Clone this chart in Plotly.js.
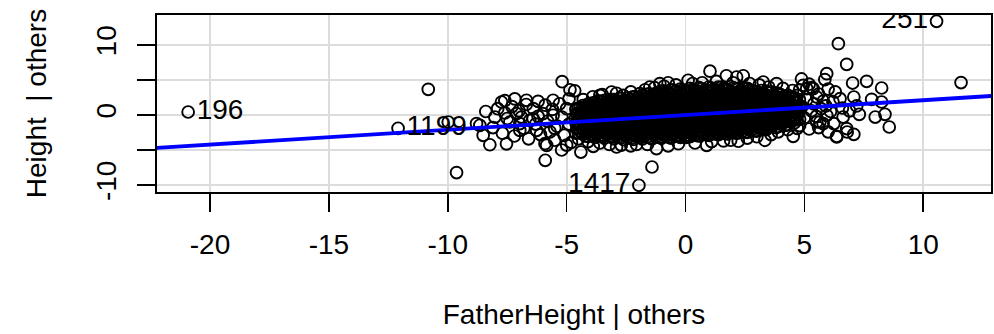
<!DOCTYPE html>
<html><head><meta charset="utf-8">
<script src="https://cdn.plot.ly/plotly-3.0.1.min.js"></script>
<style>html,body{margin:0;padding:0;background:#fff}#chart{width:994px;height:334px}</style>
</head><body><div id="chart"></div>
<script>
// Scattered / outlying points (FatherHeight | others, Height | others)
const outerX = [
-20.92, 10.56, 11.59, -1.96, -1.41, -12.09, -10.82, -9.63, -9.98, -8.79,
-8.51, -8.23, -7.53, -8.02, -7.74, -7.60, -7.18, -6.69, -6.20, -5.57,
-5.19, -7.39, -6.97, -7.11, -6.55, -5.91, -5.84, -5.21, -5.90, -6.26,
-4.86, -4.66, -6.97, -6.41, -5.57, -8.65, -4.40, -3.88, -2.90, -2.06,
-1.22, -0.73, 0.89, 2.22, 3.34, 4.53, -3.60, -3.11, -2.62, -1.92,
-1.50, -1.08, -0.73, 0.11, 1.03, 1.72, 2.15, 2.43, 3.27, 3.83,
4.88, 4.95, 5.37, 5.10, 5.52, 5.31, 5.86, 5.94, 6.43, 6.78,
7.03, 7.62, 8.25, 7.83, 8.25, 7.08, 6.50, 7.31, 7.98, 8.39,
8.57, 6.63, 6.78, 6.36, 6.80, 7.08, 5.94, 6.24, 5.65, 5.52,
5.79, 6.36, -8.4, -8.1, -7.9, -7.7, -7.5, -7.3, -7.2, -7.0,
-6.8, -6.7, -6.6, -6.4, -6.3, -6.1, -6.0, -5.9, -5.8, -5.7,
-5.6, -5.5, -5.4, -5.3, -5.2, -5.1, -5.0, -4.9, -4.9, -4.8,
-6.9, -7.6, -6.2, -5.5, -5.0, 4.7, 4.8, 4.9, 5.0, 5.1,
5.2, 5.3, 5.4, 5.5, 5.6, 5.7, 5.8, 5.9, 6.0, 6.1,
6.2, 6.3, 6.6, 6.9, 7.2, 6.0, 5.6, 4.8, 5.2
];
const outerY = [
0.43, 13.39, 4.63, -10.04, -7.43, -1.90, 3.67, -8.23, -1.00, -1.23,
-2.90, -4.25, -4.12, -0.29, 1.86, 2.05, 2.30, 2.10, 1.95, 2.10,
4.76, -1.00, -1.23, 0.20, -0.76, -4.09, -4.33, -5.00, -6.47, -2.19,
3.60, 3.45, -2.19, -0.51, -0.04, -1.47, -5.29, -4.47, -4.57, -4.20,
-4.80, -4.40, -4.33, -3.75, -3.61, -3.04, 2.81, 3.29, 2.81, 3.06,
4.00, 4.49, 4.60, 4.96, 6.27, 5.60, 5.43, 5.60, 4.71, 4.49,
5.15, 4.24, 3.77, 3.77, 2.57, 3.91, 5.06, 5.91, 10.20, 7.24,
4.57, 4.81, 3.86, 2.24, 1.86, 2.57, 2.34, 0.10, -0.29, 0.10,
-1.71, -0.29, -1.94, -3.04, -2.43, -2.76, -0.04, -1.23, -1.00, -1.00,
-1.23, -3.14, 0.5, -1.8, 0.9, -2.6, -0.5, 1.2, -3.0, 0.6,
-1.9, 1.5, -3.4, 0.9, -1.3, -2.8, 0.2, 1.4, -0.9, -2.4,
0.8, -3.6, -1.6, 1.6, -0.3, -2.9, 0.9, -1.3, 2.3, -3.9,
-0.3, 0.3, -0.2, -1.9, -4.3, 2.8, -1.5, 1.2, -0.4, 2.2,
-2.0, 0.6, 1.6, -0.2, 3.0, 0.9, 2.0, 1.3, -2.4, 0.5,
1.9, 3.3, 1.0, 0.6, 1.3, 3.7, -1.8, 3.6, 4.4
];
// Points along the edges of the dense cloud
const fringeX = [-4.3,-3.9,-3.5,-2.9,-2.3,-1.7,-1.3,-0.9,-0.4,0.3,0.7,1.3,2.0,2.7,3.1,3.5,4.1,4.5,
 -4.5,-4.1,-3.6,-3.2,-2.7,-2.3,-1.6,-0.3,0.4,1.1,1.6,1.9,2.6,3.0,3.6,3.9,4.3,4.7];
const fringeY = [2.2,2.6,2.9,3.1,3.3,3.6,3.9,4.1,4.3,4.5,4.6,4.8,4.6,4.5,4.3,4.0,3.8,3.5,
 -3.4,-3.8,-4.0,-4.2,-4.3,-4.4,-4.2,-4.1,-4.0,-3.8,-3.7,-3.6,-3.3,-3.1,-2.8,-2.4,-2.1,-1.9];
// Dense (over-plotted) core of the cloud, part 1
const coreX = [
-4.62,-4.57,-4.60,-4.64,-4.58,-4.61,
-4.41,-4.38,-4.43,-4.40,-4.37,-4.42,
-4.21,-4.18,-4.22,-4.19,-4.23,-4.20,-4.17,
-3.98,-4.02,-4.00,-3.97,-4.03,-3.99,-4.01,
-3.81,-3.78,-3.80,-3.83,-3.79,-3.82,-3.77,-3.80,
-3.59,-3.62,-3.58,-3.61,-3.60,-3.57,-3.63,-3.60,
-3.41,-3.38,-3.40,-3.43,-3.39,-3.42,-3.37,-3.40,-3.41,
-3.20,-3.23,-3.18,-3.21,-3.19,-3.22,-3.20,-3.17,
-3.01,-2.98,-3.02,-2.99,-3.03,-3.00,-2.97,-3.01,-2.99,
-2.79,-2.82,-2.80,-2.78,-2.81,-2.83,-2.79,-2.80,-2.77,
-2.61,-2.58,-2.60,-2.62,-2.59,-2.57,-2.61,-2.63,-2.60,
-2.40,-2.42,-2.38,-2.41,-2.39,-2.43,-2.40,-2.37,-2.41,
-2.19,-2.22,-2.20,-2.18,-2.21,-2.23,-2.19,-2.20,-2.17,-2.21,
-2.01,-1.98,-2.02,-2.00,-1.97,-2.03,-1.99,-2.01,-1.98,
-1.81,-1.78,-1.80,-1.82,-1.79,-1.83,-1.80,-1.77,-1.81,-1.79,
-1.60,-1.62,-1.58,-1.61,-1.59,-1.63,-1.60,-1.57,-1.61,-1.60,
-1.41,-1.38,-1.40,-1.42,-1.39,-1.43,-1.40,-1.37,-1.41,-1.39,
-1.20,-1.22,-1.18,-1.21,-1.19,-1.23,-1.20,-1.17,-1.21,-1.19,
-1.01,-0.98,-1.00,-1.02,-0.99,-1.03,-1.00,-0.97,-1.01,-0.99,-1.02,
-0.80,-0.82,-0.78,-0.81,-0.79,-0.83,-0.80,-0.77,-0.81,-0.79,
-0.61,-0.58,-0.60,-0.62,-0.59,-0.63,-0.60,-0.57,-0.61,-0.59,-0.62,
-0.40,-0.42,-0.38,-0.41,-0.39,-0.43,-0.40,-0.37,-0.41,-0.39,
-0.21,-0.18,-0.20,-0.22,-0.19,-0.23,-0.20,-0.17,-0.21,-0.19,-0.22,
0.00,-0.02,0.02,-0.01,0.01,-0.03,0.00,0.03,-0.01,0.01,0.02,
0.19,0.22,0.20,0.18,0.21,0.17,0.20,0.23,0.19,0.21,0.18,
0.40,0.38,0.42,0.39,0.41,0.37,0.40,0.43,0.39,0.41,
0.59,0.62,0.60,0.58,0.61,0.57,0.60,0.63,0.59,0.61,0.58,
0.80,0.78,0.82,0.79,0.81,0.77,0.80,0.83,0.79,0.81,
0.99,1.02,1.00,0.98,1.01,0.97,1.00,1.03,0.99,1.01,0.98,
1.20,1.18,1.22,1.19,1.21,1.17,1.20,1.23,1.19,1.21,
1.39,1.42,1.40,1.38,1.41,1.37,1.40,1.43,1.39,1.41,1.38,
1.60,1.58,1.62,1.59,1.61,1.57,1.60,1.63,1.59,1.61,
1.79,1.82,1.80,1.78,1.81,1.77,1.80,1.83,1.79,1.81,
2.00,1.98,2.02,1.99,2.01,1.97,2.00,2.03,1.99,2.01,
2.19,2.22,2.20,2.18,2.21,2.17,2.20,2.23,2.19,2.21,
2.40,2.38,2.42,2.39,2.41,2.37,2.40,2.43,2.39,2.41,
2.59,2.62,2.60,2.58,2.61,2.57,2.60,2.63,2.59,2.61,
2.80,2.78,2.82,2.79,2.81,2.77,2.80,2.83,2.79,
2.99,3.02,3.00,2.98,3.01,2.97,3.00,3.03,2.99,
3.20,3.18,3.22,3.19,3.21,3.17,3.20,3.23,3.19,
3.39,3.42,3.40,3.38,3.41,3.37,3.40,3.43,3.39,
3.60,3.58,3.62,3.59,3.61,3.57,3.60,3.63,
3.79,3.82,3.80,3.78,3.81,3.77,3.80,3.83,
4.00,3.98,4.02,3.99,4.01,3.97,4.00,
4.19,4.22,4.20,4.18,4.21,4.17,4.20,
4.40,4.38,4.42,4.39,4.41,4.37,
4.59,4.62,4.60,4.58,4.61,4.57,
4.80,4.78,4.82,4.79
];
const coreY = [
-2.6,-1.9,-1.2,-0.5,0.2,0.8,
-2.4,-1.7,-1.1,-0.3,0.4,1.1,
-3.0,-2.3,-1.6,-0.9,-0.2,0.5,1.2,
-2.8,-2.1,-1.4,-0.7,0.0,0.7,1.4,
-3.2,-2.5,-1.8,-1.1,-0.4,0.3,1.0,1.7,
-2.9,-2.2,-1.5,-0.8,-0.1,0.6,1.3,2.0,
-3.3,-2.6,-1.9,-1.2,-0.5,0.2,0.9,1.6,2.1,
-3.0,-2.3,-1.6,-0.9,-0.2,0.5,1.2,1.9,
-3.4,-2.7,-2.0,-1.3,-0.6,0.1,0.8,1.5,2.2,
-3.1,-2.4,-1.7,-1.0,-0.3,0.4,1.1,1.8,2.4,
-3.5,-2.8,-2.1,-1.4,-0.7,0.0,0.7,1.4,2.1,
-3.2,-2.5,-1.8,-1.1,-0.4,0.3,1.0,1.7,2.4,
-3.5,-2.8,-2.1,-1.4,-0.7,0.0,0.7,1.4,2.1,2.6,
-3.1,-2.4,-1.7,-1.0,-0.3,0.4,1.1,1.8,2.5,
-3.4,-2.7,-2.0,-1.3,-0.6,0.1,0.8,1.5,2.2,2.8,
-3.1,-2.4,-1.7,-1.0,-0.3,0.4,1.1,1.8,2.5,3.0,
-3.4,-2.7,-2.0,-1.3,-0.6,0.1,0.8,1.5,2.2,2.9,
-3.0,-2.3,-1.6,-0.9,-0.2,0.5,1.2,1.9,2.6,3.2,
-3.3,-2.6,-1.9,-1.2,-0.5,0.2,0.9,1.6,2.3,3.0,3.4,
-3.0,-2.3,-1.6,-0.9,-0.2,0.5,1.2,1.9,2.6,3.3,
-3.3,-2.6,-1.9,-1.2,-0.5,0.2,0.9,1.6,2.3,3.0,3.6,
-2.9,-2.2,-1.5,-0.8,-0.1,0.6,1.3,2.0,2.7,3.4,
-3.2,-2.5,-1.8,-1.1,-0.4,0.3,1.0,1.7,2.4,3.1,3.7,
-2.9,-2.2,-1.5,-0.8,-0.1,0.6,1.3,2.0,2.7,3.4,-3.2,
-3.1,-2.4,-1.7,-1.0,-0.3,0.4,1.1,1.8,2.5,3.2,3.8,
-2.8,-2.1,-1.4,-0.7,0.0,0.7,1.4,2.1,2.8,3.5,
-3.0,-2.3,-1.6,-0.9,-0.2,0.5,1.2,1.9,2.6,3.3,3.9,
-2.7,-2.0,-1.3,-0.6,0.1,0.8,1.5,2.2,2.9,3.6,
-2.9,-2.2,-1.5,-0.8,-0.1,0.6,1.3,2.0,2.7,3.4,4.0,
-2.6,-1.9,-1.2,-0.5,0.2,0.9,1.6,2.3,3.0,3.7,
-2.8,-2.1,-1.4,-0.7,0.0,0.7,1.4,2.1,2.8,3.5,4.0,
-2.5,-1.8,-1.1,-0.4,0.3,1.0,1.7,2.4,3.1,3.8,
-2.7,-2.0,-1.3,-0.6,0.1,0.8,1.5,2.2,2.9,3.6,
-2.4,-1.7,-1.0,-0.3,0.4,1.1,1.8,2.5,3.2,3.9,
-2.6,-1.9,-1.2,-0.5,0.2,0.9,1.6,2.3,3.0,3.7,
-2.3,-1.6,-0.9,-0.2,0.5,1.2,1.9,2.6,3.3,3.9,
-2.5,-1.8,-1.1,-0.4,0.3,1.0,1.7,2.4,3.1,3.8,
-2.1,-1.4,-0.7,0.0,0.7,1.4,2.1,2.8,3.5,
-2.3,-1.6,-0.9,-0.2,0.5,1.2,1.9,2.6,3.3,
-1.9,-1.2,-0.5,0.2,0.9,1.6,2.3,3.0,3.5,
-2.1,-1.4,-0.7,0.0,0.7,1.4,2.1,2.8,3.4,
-1.6,-0.9,-0.2,0.5,1.2,1.9,2.6,3.3,
-1.8,-1.1,-0.4,0.3,1.0,1.7,2.4,3.1,
-1.3,-0.6,0.1,0.8,1.5,2.2,2.9,
-1.5,-0.8,-0.1,0.6,1.3,2.0,2.7,
-1.0,-0.3,0.4,1.1,1.8,2.5,
-1.1,-0.4,0.3,1.0,1.7,2.4,
-0.6,0.4,1.3,2.2
];
// Dense core, part 2 (observations lying between the part-1 columns)
const core2X = [
-4.51,-4.49,-4.52,-4.50,-4.48,-4.51,
-4.30,-4.32,-4.29,-4.31,-4.28,-4.30,-4.32,
-4.11,-4.09,-4.12,-4.10,-4.08,-4.11,-4.09,-4.10,
-3.90,-3.92,-3.89,-3.91,-3.88,-3.90,-3.92,-3.89,
-3.71,-3.69,-3.72,-3.70,-3.68,-3.71,-3.69,-3.70,
-3.50,-3.52,-3.49,-3.51,-3.48,-3.50,-3.52,-3.49,
-3.31,-3.29,-3.32,-3.30,-3.28,-3.31,-3.29,-3.30,
-3.10,-3.12,-3.09,-3.11,-3.08,-3.10,-3.12,-3.09,-3.11,
-2.91,-2.89,-2.92,-2.90,-2.88,-2.91,-2.89,-2.90,
-2.70,-2.72,-2.69,-2.71,-2.68,-2.70,-2.72,-2.69,-2.71,
-2.51,-2.49,-2.52,-2.50,-2.48,-2.51,-2.49,-2.50,
-2.30,-2.32,-2.29,-2.31,-2.28,-2.30,-2.32,-2.29,-2.31,
-2.11,-2.09,-2.12,-2.10,-2.08,-2.11,-2.09,-2.10,-2.12,
-1.90,-1.92,-1.89,-1.91,-1.88,-1.90,-1.92,-1.89,-1.91,
-1.71,-1.69,-1.72,-1.70,-1.68,-1.71,-1.69,-1.70,-1.72,
-1.50,-1.52,-1.49,-1.51,-1.48,-1.50,-1.52,-1.49,-1.51,-1.50,
-1.31,-1.29,-1.32,-1.30,-1.28,-1.31,-1.29,-1.30,-1.32,
-1.10,-1.12,-1.09,-1.11,-1.08,-1.10,-1.12,-1.09,-1.11,-1.10,
-0.91,-0.89,-0.92,-0.90,-0.88,-0.91,-0.89,-0.90,-0.92,-0.91,
-0.70,-0.72,-0.69,-0.71,-0.68,-0.70,-0.72,-0.69,-0.71,-0.70,
-0.51,-0.49,-0.52,-0.50,-0.48,-0.51,-0.49,-0.50,-0.52,-0.51,
-0.30,-0.32,-0.29,-0.31,-0.28,-0.30,-0.32,-0.29,-0.31,-0.30,
-0.11,-0.09,-0.12,-0.10,-0.08,-0.11,-0.09,-0.10,-0.12,-0.11,
0.10,0.08,0.11,0.09,0.12,0.10,0.08,0.11,0.09,0.10,
0.29,0.31,0.28,0.30,0.32,0.29,0.31,0.30,0.28,0.29,
0.50,0.48,0.51,0.49,0.52,0.50,0.48,0.51,0.49,0.50,
0.69,0.71,0.68,0.70,0.72,0.69,0.71,0.70,0.68,0.69,
0.90,0.88,0.91,0.89,0.92,0.90,0.88,0.91,0.89,0.90,
1.09,1.11,1.08,1.10,1.12,1.09,1.11,1.10,1.08,1.09,
1.30,1.28,1.31,1.29,1.32,1.30,1.28,1.31,1.29,1.30,
1.49,1.51,1.48,1.50,1.52,1.49,1.51,1.50,1.48,1.49,
1.70,1.68,1.71,1.69,1.72,1.70,1.68,1.71,1.69,1.70,
1.89,1.91,1.88,1.90,1.92,1.89,1.91,1.90,1.88,
2.10,2.08,2.11,2.09,2.12,2.10,2.08,2.11,2.09,2.10,
2.29,2.31,2.28,2.30,2.32,2.29,2.31,2.30,2.28,
2.50,2.48,2.51,2.49,2.52,2.50,2.48,2.51,2.49,2.50,
2.69,2.71,2.68,2.70,2.72,2.69,2.71,2.70,2.68,
2.90,2.88,2.91,2.89,2.92,2.90,2.88,2.91,2.89,
3.09,3.11,3.08,3.10,3.12,3.09,3.11,3.10,
3.30,3.28,3.31,3.29,3.32,3.30,3.28,3.31,
3.49,3.51,3.48,3.50,3.52,3.49,3.51,3.50,
3.70,3.68,3.71,3.69,3.72,3.70,3.68,
3.89,3.91,3.88,3.90,3.92,3.89,3.91,3.90,
4.10,4.08,4.11,4.09,4.12,4.10,
4.29,4.31,4.28,4.30,4.32,4.29,4.31,
4.50,4.48,4.51,4.49,4.52,4.50,
4.69,4.71,4.68,4.70
];
const core2Y = [
-2.55,-1.85,-1.15,-0.45,0.25,0.95,
-2.75,-2.05,-1.35,-0.65,0.05,0.75,1.35,
-3.05,-2.45,-1.75,-1.05,-0.35,0.35,1.05,1.55,
-2.95,-2.25,-1.55,-0.85,-0.15,0.55,1.25,1.75,
-2.65,-1.95,-1.25,-0.55,0.15,0.85,1.55,2.00,
-3.05,-2.35,-1.65,-0.95,-0.25,0.45,1.15,1.85,
-2.75,-2.05,-1.35,-0.65,0.05,0.75,1.45,2.15,
-3.15,-2.45,-1.75,-1.05,-0.35,0.35,1.05,1.75,2.25,
-2.85,-2.15,-1.45,-0.75,-0.05,0.65,1.35,2.05,
-3.25,-2.55,-1.85,-1.15,-0.45,0.25,0.95,1.65,2.35,
-2.95,-2.25,-1.55,-0.85,-0.15,0.55,1.25,1.95,
-3.35,-2.65,-1.95,-1.25,-0.55,0.15,0.85,1.55,2.25,
-2.95,-2.25,-1.55,-0.85,-0.15,0.55,1.25,1.95,2.60,
-3.25,-2.55,-1.85,-1.15,-0.45,0.25,0.95,1.65,2.35,
-2.95,-2.25,-1.55,-0.85,-0.15,0.55,1.25,1.95,2.65,
-3.25,-2.55,-1.85,-1.15,-0.45,0.25,0.95,1.65,2.35,3.00,
-2.85,-2.15,-1.45,-0.75,-0.05,0.65,1.35,2.05,2.75,
-3.15,-2.45,-1.75,-1.05,-0.35,0.35,1.05,1.75,2.45,3.15,
-2.85,-2.15,-1.45,-0.75,-0.05,0.65,1.35,2.05,2.75,3.40,
-3.15,-2.45,-1.75,-1.05,-0.35,0.35,1.05,1.75,2.45,3.15,
-2.75,-2.05,-1.35,-0.65,0.05,0.75,1.45,2.15,2.85,3.55,
-3.05,-2.35,-1.65,-0.95,-0.25,0.45,1.15,1.85,2.55,3.25,
-2.75,-2.05,-1.35,-0.65,0.05,0.75,1.45,2.15,2.85,3.55,
-3.05,-2.35,-1.65,-0.95,-0.25,0.45,1.15,1.85,2.55,3.25,
-2.65,-1.95,-1.25,-0.55,0.15,0.85,1.55,2.25,2.95,3.65,
-2.95,-2.25,-1.55,-0.85,-0.15,0.55,1.25,1.95,2.65,3.35,
-2.55,-1.85,-1.15,-0.45,0.25,0.95,1.65,2.35,3.05,3.75,
-2.85,-2.15,-1.45,-0.75,-0.05,0.65,1.35,2.05,2.75,3.45,
-2.45,-1.75,-1.05,-0.35,0.35,1.05,1.75,2.45,3.15,3.85,
-2.75,-2.05,-1.35,-0.65,0.05,0.75,1.45,2.15,2.85,3.55,
-2.35,-1.65,-0.95,-0.25,0.45,1.15,1.85,2.55,3.25,3.95,
-2.65,-1.95,-1.25,-0.55,0.15,0.85,1.55,2.25,2.95,3.65,
-2.25,-1.55,-0.85,-0.15,0.55,1.25,1.95,2.65,3.35,
-2.55,-1.85,-1.15,-0.45,0.25,0.95,1.65,2.35,3.05,3.75,
-2.15,-1.45,-0.75,-0.05,0.65,1.35,2.05,2.75,3.45,
-2.45,-1.75,-1.05,-0.35,0.35,1.05,1.75,2.45,3.15,3.80,
-2.05,-1.35,-0.65,0.05,0.75,1.45,2.15,2.85,3.55,
-2.25,-1.55,-0.85,-0.15,0.55,1.25,1.95,2.65,3.35,
-1.85,-1.15,-0.45,0.25,0.95,1.65,2.35,3.05,
-2.05,-1.35,-0.65,0.05,0.75,1.45,2.15,2.85,
-1.75,-1.05,-0.35,0.35,1.05,1.75,2.45,3.15,
-1.45,-0.75,-0.05,0.65,1.35,2.05,2.75,
-1.65,-0.95,-0.25,0.45,1.15,1.85,2.55,3.10,
-1.15,-0.45,0.25,0.95,1.65,2.35,
-1.35,-0.65,0.05,0.75,1.45,2.15,2.80,
-0.85,-0.15,0.55,1.25,1.95,2.60,
-0.65,0.15,0.95,1.75
];
// Labelled observations (index into outerX/outerY)
const labelText = ['196', '251', '1199', '1417'];
const labelIndex = [0, 1, 5, 3];
const labelSide = ['middle right', 'middle left', 'middle right', 'middle left'];
// Least-squares line of the added-variable plot
const fitIntercept = 0.0;
const fitSlope = 0.2115;
// Axis ticks
const xTickVals = [-20, -15, -10, -5, 0, 5, 10];
const xTickText = ['-20', '-15', '-10', '-5', '0', '5', '10'];
const yTickVals = [-10, -5, 0, 5, 10];
const yTickText = ['-10', '', '0', '', '10'];

const xs = outerX.concat(fringeX, coreX, core2X);
const ys = outerY.concat(fringeY, coreY, core2Y);
const xRange = [-22.23, 12.85];
const yRange = [-11.0, 14.29];
const lineXs = [xRange[0] - 5, xRange[1] + 5];
const lineYs = lineXs.map(v => fitIntercept + fitSlope * v);

const FONT = 'Liberation Sans, Arial, Helvetica, sans-serif';
const traces = [
  {x: xs, y: ys, type: 'scatter', mode: 'markers', hoverinfo: 'skip',
   marker: {symbol: 'circle-open', size: 11.8, color: '#000', line: {width: 1.9, color: '#000'}}},
  {x: lineXs, y: lineYs, type: 'scatter', mode: 'lines', hoverinfo: 'skip',
   line: {color: '#0000ff', width: 3.8}},
  {x: labelIndex.map(i => outerX[i]), y: labelIndex.map(i => outerY[i]), text: labelText,
   type: 'scatter', mode: 'markers+text', textposition: labelSide, cliponaxis: true, hoverinfo: 'skip',
   marker: {size: 12, color: 'rgba(0,0,0,0)', line: {width: 0}},
   textfont: {family: FONT, size: 28, color: '#000'}}
];
const axisCommon = {
  showline: true, mirror: true, linecolor: '#000', linewidth: 1.6,
  ticks: 'outside', ticklen: 18, tickwidth: 1.5, tickcolor: '#000',
  showgrid: true, gridcolor: '#dcdcdc', gridwidth: 1.8, zeroline: false,
  tickfont: {family: FONT, size: 28, color: '#000'}, automargin: false
};
const layout = {
  width: 994, height: 334,
  margin: {l: 157, r: 3, t: 15, b: 142, pad: 0},
  paper_bgcolor: '#fff', plot_bgcolor: '#fff', showlegend: false,
  font: {family: FONT, color: '#000'},
  xaxis: Object.assign({}, axisCommon, {
    range: xRange, tickmode: 'array', tickvals: xTickVals, ticktext: xTickText,
    ticklabelstandoff: 9,
    title: {text: 'FatherHeight | others', font: {family: FONT, size: 28, color: '#000'}, standoff: 45}
  }),
  yaxis: Object.assign({}, axisCommon, {
    range: yRange, tickmode: 'array', tickvals: yTickVals, ticktext: yTickText,
    tickangle: -90, ticklabelstandoff: 10,
    title: {text: 'Height\u00a0 | others', font: {family: FONT, size: 28, color: '#000'}, standoff: 36}
  })
};
Plotly.newPlot('chart', traces, layout, {displayModeBar: false, staticPlot: true});
</script></body></html>
